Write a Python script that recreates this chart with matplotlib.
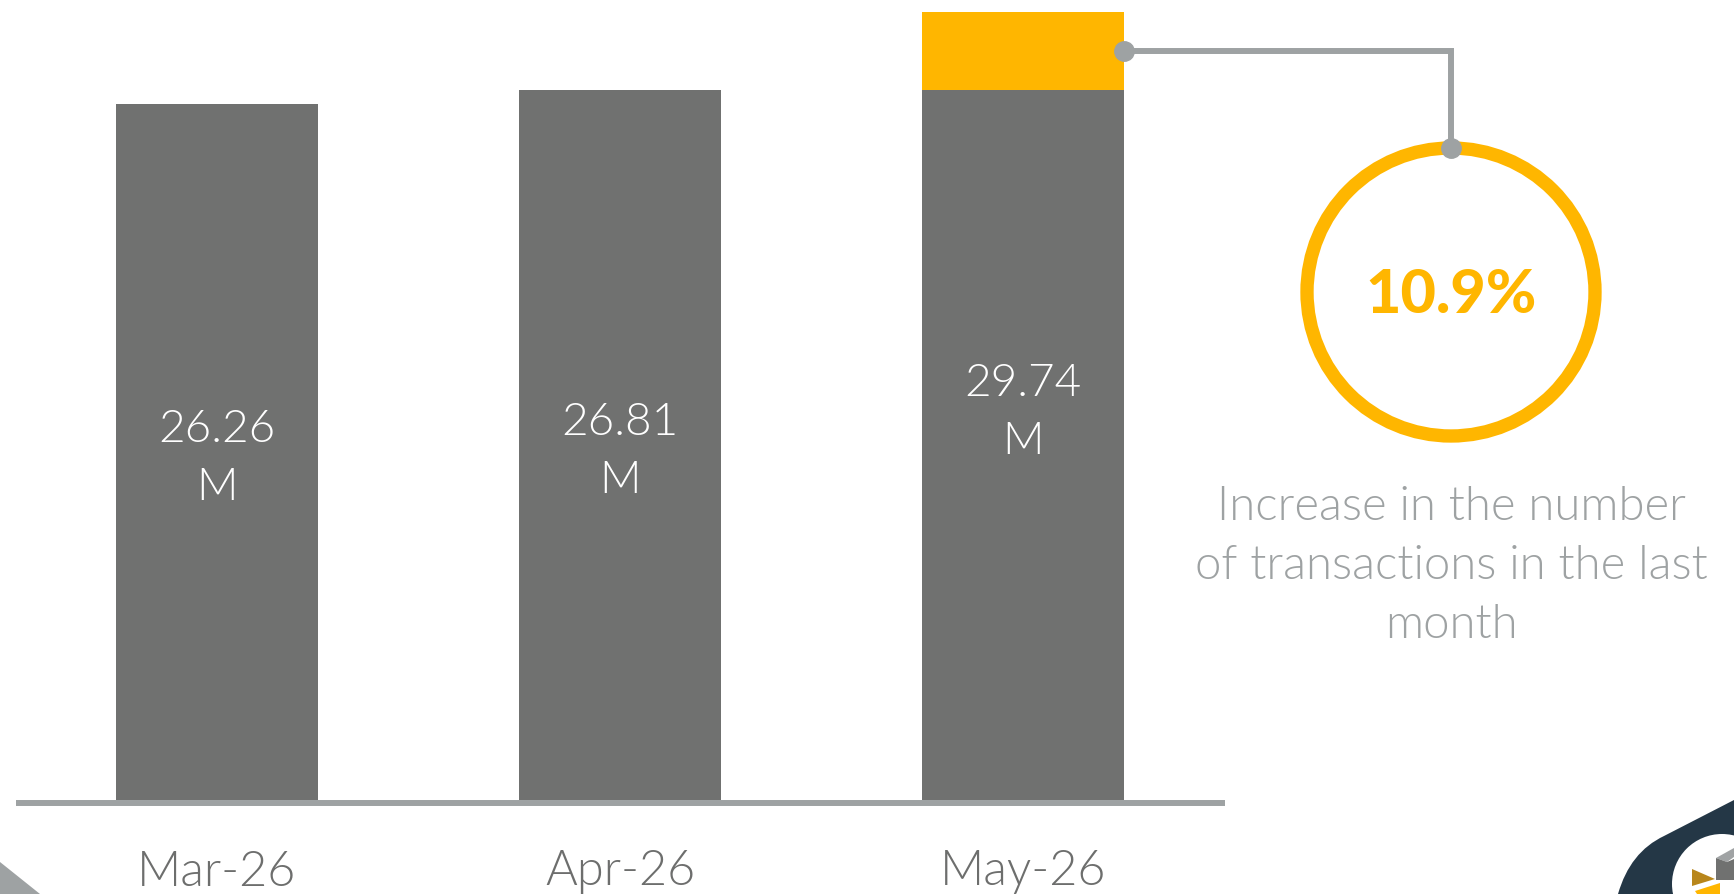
import matplotlib
matplotlib.use('Agg')
import matplotlib.pyplot as plt
from matplotlib.patches import Circle, Polygon, PathPatch
from matplotlib.path import Path

# transacciones por mes (millones)
meses = ['Mar-26', 'Apr-26', 'May-26']
valores = [26.26, 26.81, 29.74]
etiquetas = ['26.26\nM', '26.81\nM', '29.74\nM']
incremento = '10.9%'
texto_desc = 'Increase in the number\nof transactions in the last\nmonth'

gris_barra = '#707170'
gris_claro = '#9ea2a3'
amarillo = '#ffb600'
azul = '#243746'

plt.rcParams['font.family'] = ['Lato', 'DejaVu Sans']
peso = 300  # Lato Light

W, H = 1734, 894
fig = plt.figure(figsize=(W / 100, H / 100), dpi=100)

# ejes de las barras: y=0 en el pixel 800, escala ~26.5 px por millon
ax = fig.add_axes([0, (H - 800) / H, 1240 / W, 800 / H])
ax.set_xlim(-0.5385, 2.538)
ax.set_ylim(0, 800 / 26.5)
ax.axis('off')

x = list(range(len(meses)))
ancho = 0.5
# la ultima barra: parte gris = mes anterior, parte amarilla = incremento
base = valores[:-1] + [valores[-2]]
ax.bar(x, base, width=ancho, color=gris_barra, zorder=2)
ax.bar(x[-1], valores[-1] - valores[-2], bottom=valores[-2], width=ancho, color=amarillo, zorder=2)

for i in x:
    # etiqueta a media altura de la barra (un poco mas abajo)
    ax.text(i, valores[i] / 2 - 0.25, etiquetas[i], ha='center', va='center', color='white',
            fontsize=33, fontweight=peso, linespacing=1.5, zorder=3)
    ax.text(i, -72 / 800, meses[i], transform=ax.get_xaxis_transform(), ha='center', va='center',
            color='#6d6e6d', fontsize=35, fontweight=peso, clip_on=False)

# linea base
ax.plot([-0.5, 2.5], [-0.12, -0.12], color=gris_claro, lw=4.3, solid_capstyle='butt', clip_on=False, zorder=1)

# capa en pixeles para el circulo, el conector y los adornos
ov = fig.add_axes([0, 0, 1, 1])
ov.set_xlim(0, W)
ov.set_ylim(H, 0)
ov.axis('off')

cx, cy, r = 1451, 292, 144
ov.add_patch(Circle((cx, cy), r, fill=False, edgecolor=amarillo, lw=9.6, zorder=2))
ov.text(cx, cy + 3, incremento, ha='center', va='center', color=amarillo, fontsize=44,
        fontweight='black', zorder=3)
ov.text(cx, 566, texto_desc, ha='center', va='center', color=gris_claro, fontsize=34,
        fontweight=peso, linespacing=1.5)

# conector desde la mitad del segmento amarillo hasta el circulo
p = ax.transData.transform((x[-1] + ancho / 2, (valores[-1] + valores[-2]) / 2))
x0, y0 = ov.transData.inverted().transform(p)
ov.plot([x0, cx, cx], [y0, y0, cy - r], color=gris_claro, lw=4.3, solid_joinstyle='miter', zorder=3)
ov.plot([x0, cx], [y0, cy - r], 'o', color=gris_claro, ms=14, zorder=4)

# triangulo gris abajo a la izquierda
ov.add_patch(Polygon([(0, 862), (40, H), (0, H)], closed=True, color=gris_claro, lw=0))

# logo abajo a la derecha
verts = [(W, 800), (1664, 836), (1630, 852), (1618, H), (W, H), (W, 800)]
codes = [Path.MOVETO, Path.LINETO, Path.CURVE3, Path.CURVE3, Path.LINETO, Path.CLOSEPOLY]
ov.add_patch(PathPatch(Path(verts, codes), facecolor=azul, lw=0))
ov.add_patch(Circle((1722, 884), 50, color='white', lw=0))
ov.add_patch(Polygon([(1716, 858), (1734, 848), (1734, 857), (1727, 862)], color='#a0a3a4', lw=0))
ov.add_patch(Polygon([(1716, 858), (1727, 862), (1734, 859), (1734, 880), (1716, 880)], color=gris_barra, lw=0))
ov.add_patch(Polygon([(1692, 869), (1715, 879), (1692, 886)], color='#b8861b', lw=0))
ov.add_patch(Polygon([(1695, 891), (1720, 883), (1720, H), (1697, H)], color=amarillo, lw=0))

plt.savefig('out.png', dpi=100)
plt.close()
